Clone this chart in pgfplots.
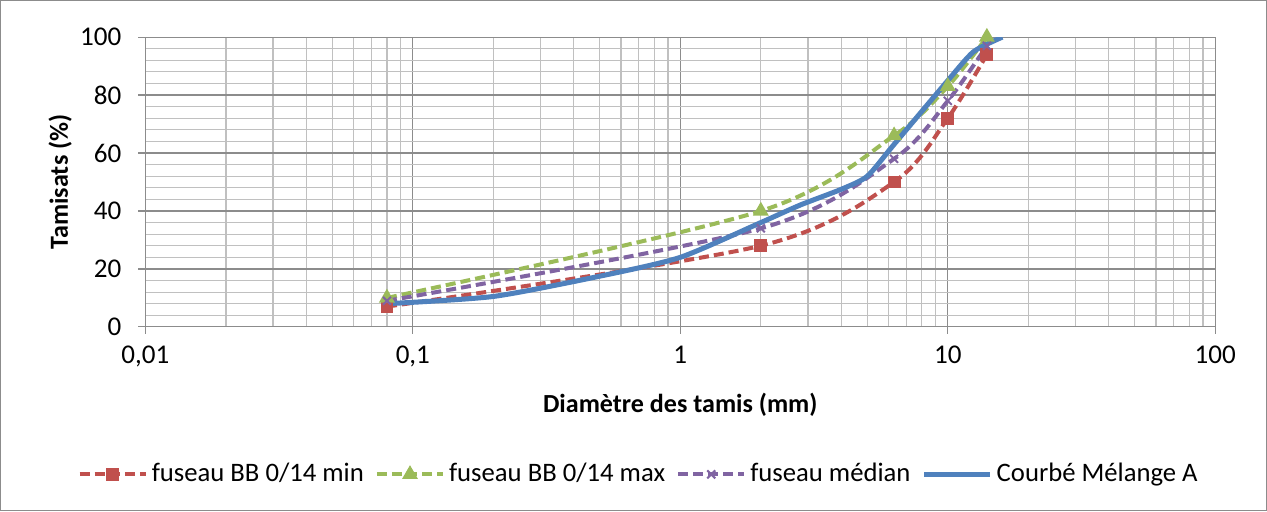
\documentclass[border=0pt]{standalone}
\usepackage{pgfplots}
\pgfplotsset{compat=1.18}
\usepackage{fontspec}
\setmainfont{Carlito}
\definecolor{cmin}{HTML}{C0504D}
\definecolor{cmax}{HTML}{9BBB59}
\definecolor{cmed}{HTML}{8064A2}
\definecolor{cmel}{HTML}{4F81BD}
\definecolor{gmaj}{HTML}{8C8C8C}
\definecolor{gmin}{HTML}{C0C0C0}
\begin{document}
\fontsize{13}{16}\selectfont
\begin{tikzpicture}
\draw[gmaj, line width=0.6pt] (0.3pt,0.3pt) rectangle (631.5pt,254.7pt);
\begin{axis}[
  at={(72.5pt,92pt)}, anchor=south west,
  scale only axis, width=533.5pt, height=144.5pt,
  xmode=log, xmin=0.01, xmax=100, ymin=0, ymax=100,
  xtick={0.01,0.1,1,10,100},
  xticklabels={{0,01},{0,1},1,10,100},
  ytick={0,20,40,60,80,100},
  minor y tick num=4,
  grid=both,
  major grid style={gmaj, line width=0.6pt},
  minor grid style={gmin, line width=0.6pt},
  axis x line=bottom, axis y line=left,
  axis line style={-, gmaj, line width=0.6pt},
  tick align=outside, major tick length=3.5pt, minor tick length=0pt,
  tick style={gmaj, line width=0.6pt},
  /pgf/number format/assume math mode=true,
  tick label style={font=\fontsize{13.5}{16}\selectfont},
  yticklabel style={xshift=-4pt},
  xticklabel style={yshift=-1.5pt},
  xlabel={\textbf{Diamètre des tamis (mm)}},
  ylabel={\textbf{Tamisats (\%)}},
  xlabel style={at={(axis description cs:0.5,0)}, anchor=center, yshift=-39pt},
  ylabel style={at={(axis description cs:0,0.5)}, anchor=center, yshift=42.5pt},
  legend columns=4,
  legend cell align=left,
  legend style={at={(0.462,-0.509)}, anchor=center, draw=none, fill=none,
    font=\fontsize{13.3}{16}\selectfont,
    /tikz/every even column/.append style={column sep=3.5pt}},
  legend image code/.code={\draw[mark repeat=2,mark phase=2] plot coordinates {(0pt,0pt)(16.5pt,0pt)(33pt,0pt)};},
]
\addplot[cmin, line width=2pt, dash pattern=on 5pt off 2.5pt, smooth, tension=0.5, mark=square*, mark size=2.2pt, mark options={solid}]
  coordinates {(0.08,7) (2,28) (6.3,50) (10,72) (14,94)};
\addlegendentry{fuseau BB 0/14 min}
\addplot[cmax, line width=2pt, dash pattern=on 5pt off 2.5pt, smooth, tension=0.5, mark=triangle*, mark size=2.6pt, mark options={solid}]
  coordinates {(0.08,10) (2,40) (6.3,66) (10,83) (14,100)};
\addlegendentry{fuseau BB 0/14 max}
\addplot[cmed, line width=2pt, dash pattern=on 5pt off 2.5pt, smooth, tension=0.5, mark=x, mark size=2.8pt, mark options={solid, line width=1pt}]
  coordinates {(0.08,9) (2,34) (6.3,58) (10,78) (14,97)};
\addlegendentry{fuseau médian}
\addplot[cmel, line width=2.5pt, smooth, tension=0.4]
  coordinates {(0.08,8) (0.2,10.5) (0.5,17.5) (1,24) (2,36) (2.8,42) (4,47.5) (5,52) (6.3,63) (10,85) (12.5,95) (16,100)};
\addlegendentry{Courbé Mélange A}
\end{axis}
\end{tikzpicture}
\end{document}
